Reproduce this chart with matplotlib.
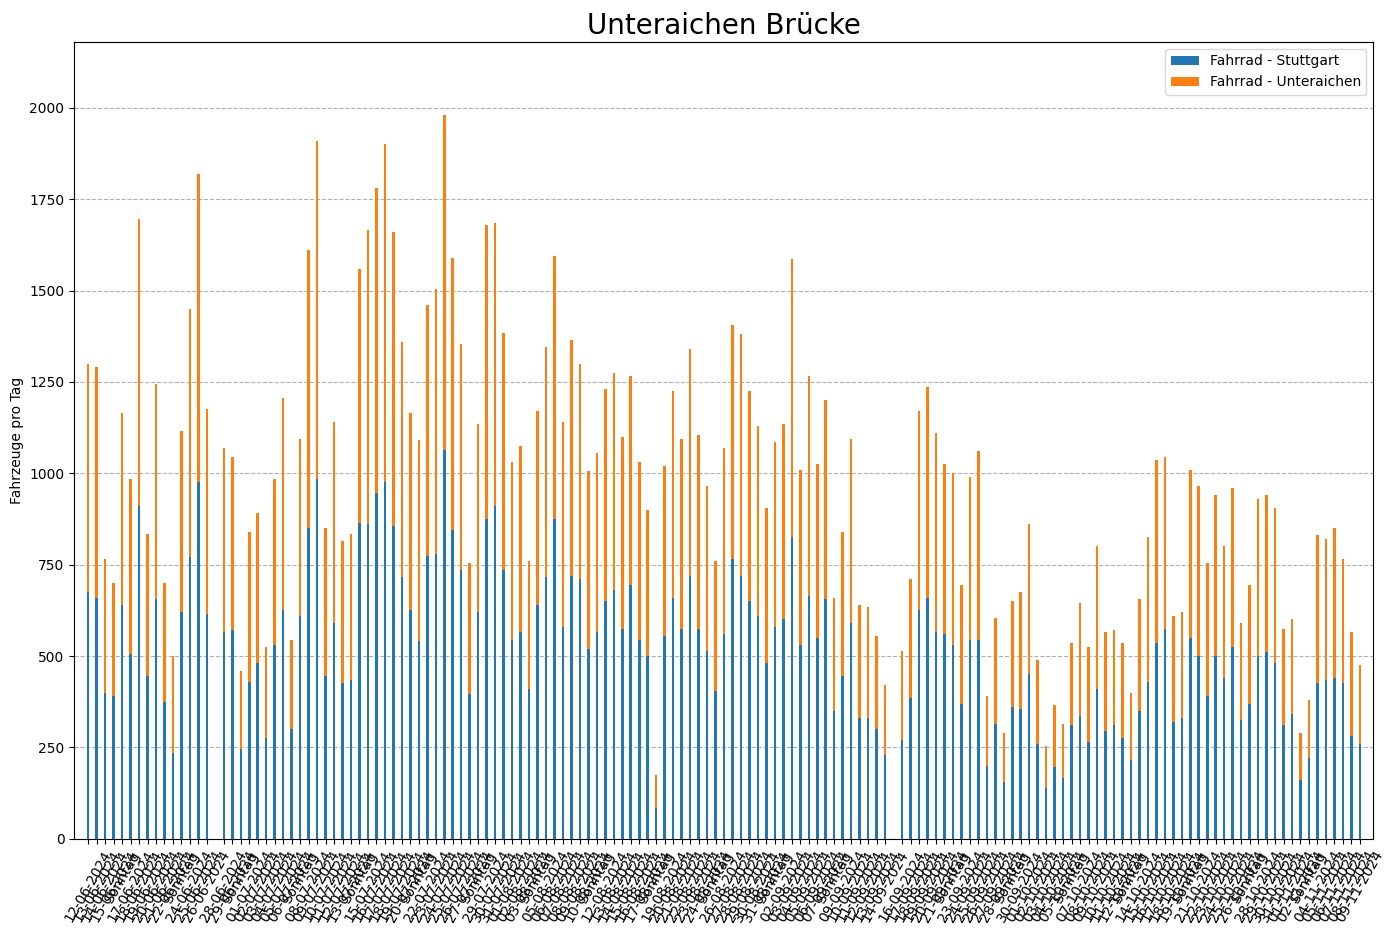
import matplotlib
matplotlib.use("Agg")
import matplotlib.pyplot as plt
import numpy as np
import datetime as dt

start = dt.date(2024, 6, 12)
missing_days = [15, 95]  # days without data (27-06, 15-09)
stuttgart = [675,660,400,390,640,505,910,445,655,375,235,620,770,975,615,0,565,570,245,430,
             480,275,530,625,300,610,850,985,445,590,425,435,865,860,945,975,855,715,625,540,
             775,780,1065,845,735,395,620,875,910,735,545,565,410,640,715,875,580,720,710,520,
             565,650,680,575,695,545,500,85,555,660,575,720,575,515,405,560,765,720,650,610,
             480,580,600,825,530,665,550,655,350,445,590,330,330,300,230,0,270,385,625,660,
             565,560,530,370,545,545,200,315,155,360,355,450,260,140,195,165,310,335,265,410,
             295,310,275,215,350,430,535,575,320,330,550,500,390,500,440,525,325,370,500,510,
             480,310,340,160,220,425,435,440,425,280,260]
unteraichen = [625,630,365,310,525,480,785,390,590,325,265,495,680,845,560,0,505,475,215,410,
               410,250,455,580,245,485,760,925,405,550,390,400,695,805,835,925,805,645,540,550,
               685,725,915,745,620,360,515,805,775,650,485,510,350,530,630,720,560,645,590,485,
               490,580,595,525,570,485,400,90,465,565,520,620,530,450,355,510,640,660,575,520,
               425,505,535,760,480,600,475,545,310,395,505,310,305,255,190,0,245,325,545,575,
               545,465,470,325,445,515,190,290,135,290,320,410,230,115,170,150,225,310,260,390,
               270,260,260,185,305,395,500,470,290,290,460,465,365,440,360,435,265,325,430,430,
               425,265,260,130,160,405,385,410,340,285,215]

n = len(stuttgart)
keep = [i for i in range(n) if i not in missing_days]
dates = [start + dt.timedelta(days=i) for i in keep]
labels = ["Sonntag" if d.weekday() == 6 else d.strftime("%d-%m-%Y") for d in dates]
x = np.array(keep)
s = np.array(stuttgart)[keep]
u = np.array(unteraichen)[keep]

fig = plt.figure(figsize=(14, 9.33), dpi=100)
ax = fig.add_axes([0.053, 0.101, 0.928, 0.854])
w = 0.3
ax.bar(x, s, w, color="#1f77b4", label="Fahrrad - Stuttgart", zorder=3)
ax.bar(x, u, w, bottom=s, color="#ff7f0e", label="Fahrrad - Unteraichen", zorder=3)
ax.set_xticks(x)
ax.set_xticklabels(labels, rotation=60, fontsize=10)
ax.set_xlim(-1.65, n + 0.6)
ax.set_ylim(0, 2180)
ax.set_yticks(np.arange(0, 2001, 250))
ax.grid(axis="y", linestyle="--", color="#b0b0b0", zorder=0)
ax.set_ylabel("Fahrzeuge pro Tag")
ax.set_title("Unteraichen Brücke", fontsize=20)
ax.legend(loc="upper right")
fig.savefig("out.png", dpi=100)
